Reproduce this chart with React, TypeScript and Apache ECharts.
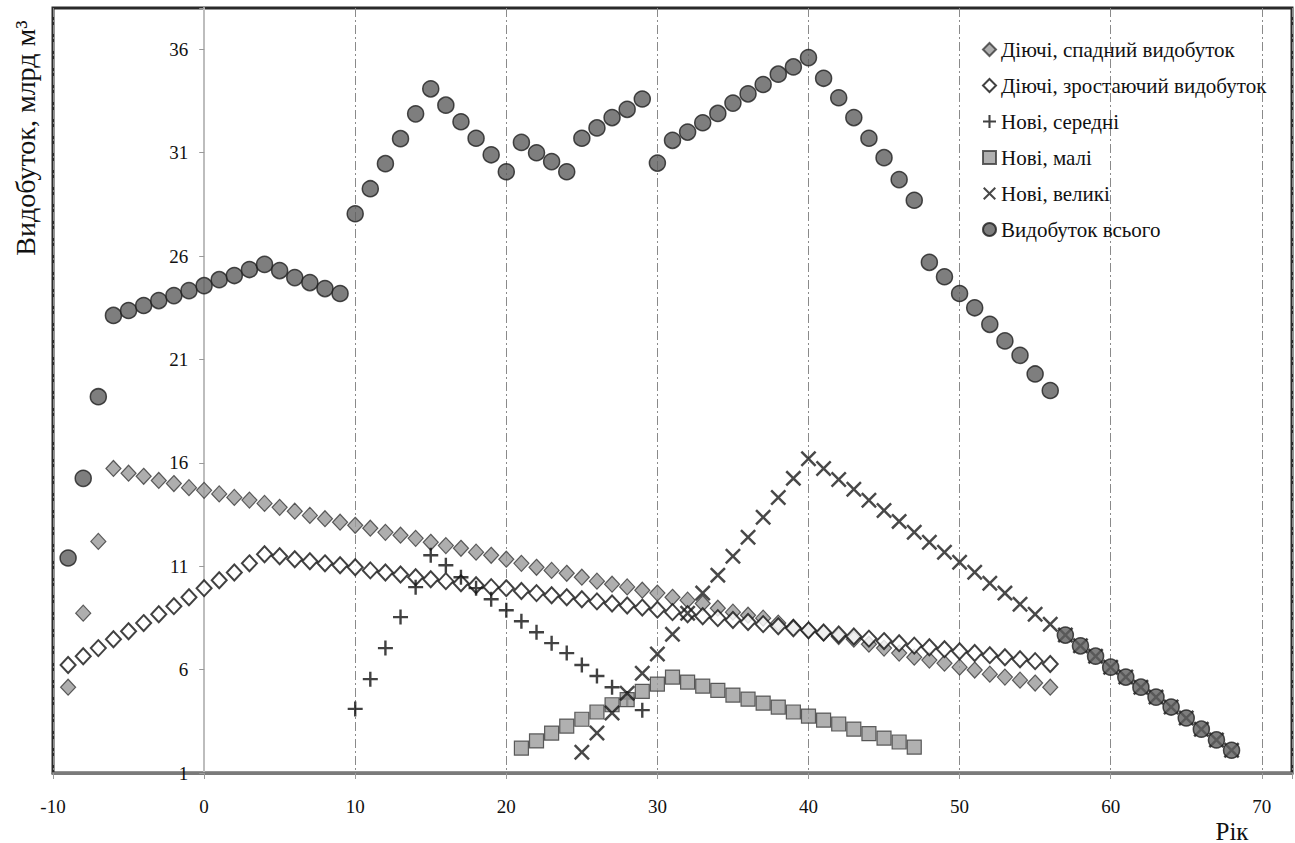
import React, { useEffect, useRef } from "react";
import * as echarts from "echarts";

// ---- Data (years and production, bln m3) ----
const startDecl = -9;
const declining = [5.15, 8.73, 12.2, 15.73, 15.5, 15.35, 15.15, 15.0, 14.8, 14.67, 14.5, 14.33, 14.2, 14.04, 13.85, 13.66, 13.46, 13.3, 13.13, 12.98, 12.84, 12.64, 12.5, 12.35, 12.16, 12.0, 11.87, 11.68, 11.53, 11.34, 11.14, 10.95, 10.8, 10.66, 10.47, 10.28, 10.13, 10.0, 9.84, 9.7, 9.5, 9.36, 9.2, 8.97, 8.78, 8.63, 8.49, 8.25, 8.05, 7.9, 7.76, 7.6, 7.47, 7.23, 7.04, 6.8, 6.6, 6.46, 6.31, 6.12, 5.98, 5.78, 5.64, 5.49, 5.35, 5.15];

const startGrow = -9;
const growing = [6.22, 6.65, 7.04, 7.47, 7.86, 8.25, 8.68, 9.07, 9.5, 9.94, 10.32, 10.7, 11.14, 11.58, 11.48, 11.34, 11.24, 11.14, 11.05, 10.95, 10.8, 10.7, 10.6, 10.47, 10.37, 10.28, 10.18, 10.08, 9.99, 9.94, 9.8, 9.7, 9.6, 9.5, 9.4, 9.3, 9.2, 9.1, 9.0, 8.9, 8.78, 8.68, 8.58, 8.49, 8.4, 8.3, 8.2, 8.1, 8.0, 7.9, 7.8, 7.7, 7.6, 7.5, 7.38, 7.28, 7.16, 7.08, 6.99, 6.89, 6.8, 6.7, 6.6, 6.5, 6.41, 6.27];

const startMedium = 10;
const newMedium = [4.1, 5.54, 7.04, 8.54, 9.99, 11.53, 11.05, 10.47, 9.94, 9.4, 8.87, 8.34, 7.81, 7.28, 6.8, 6.22, 5.69, 5.15, 4.6, 4.04];

const startSmall = 21;
const newSmall = [2.2, 2.55, 2.93, 3.27, 3.6, 3.95, 4.3, 4.55, 4.95, 5.3, 5.64, 5.4, 5.2, 5.0, 4.77, 4.57, 4.38, 4.19, 3.95, 3.75, 3.56, 3.37, 3.12, 2.9, 2.69, 2.5, 2.25];

const startLarge = 25;
const newLarge = [2.0, 2.93, 3.9, 4.86, 5.83, 6.75, 7.71, 8.73, 9.7, 10.57, 11.48, 12.4, 13.37, 14.33, 15.25, 16.2, 15.73, 15.2, 14.72, 14.19, 13.7, 13.17, 12.64, 12.16, 11.68, 11.19, 10.71, 10.18, 9.7, 9.16, 8.68, 8.2, 7.67, 7.15, 6.65, 6.12, 5.64, 5.15, 4.67, 4.19, 3.66, 3.12, 2.6, 2.1];

const startTotal = -9;
const total = [11.4, 15.25, 19.2, 23.13, 23.37, 23.61, 23.85, 24.09, 24.33, 24.57, 24.86, 25.06, 25.35, 25.6, 25.3, 24.96, 24.72, 24.43, 24.19, 28.05, 29.26, 30.47, 31.68, 32.88, 34.09, 33.3, 32.5, 31.7, 30.9, 30.08, 31.5, 31.0, 30.57, 30.08, 31.7, 32.2, 32.7, 33.1, 33.6, 30.5, 31.6, 32.0, 32.45, 32.9, 33.4, 33.85, 34.3, 34.8, 35.15, 35.6, 34.6, 33.66, 32.7, 31.7, 30.76, 29.7, 28.7, 25.7, 25.0, 24.19, 23.5, 22.7, 21.9, 21.2, 20.3, 19.5, 7.67, 7.15, 6.65, 6.12, 5.64, 5.15, 4.67, 4.19, 3.66, 3.12, 2.6, 2.1];

const seriesNames = [
  "Діючі, спадний видобуток",
  "Діючі, зростаючий видобуток",
  "Нові, середні",
  "Нові, малі",
  "Нові, великі",
  "Видобуток всього",
];

const xTicks = [-10, 0, 10, 20, 30, 40, 50, 60, 70];
const yTicks = [1, 6, 11, 16, 21, 26, 31, 36];

const toPairs = (start: number, vals: number[]) => vals.map((v, i) => [start + i, v]);

const FONT = "Liberation Serif";
const PLUS = "path://M4.2,0 H5.8 V4.2 H10 V5.8 H5.8 V10 H4.2 V5.8 H0 V4.2 H4.2 Z";
const CROSS = "path://M1.1,0 L5,3.9 L8.9,0 L10,1.1 L6.1,5 L10,8.9 L8.9,10 L5,6.1 L1.1,10 L0,8.9 L3.9,5 L0,1.1 Z";

const GRID_LEFT = 53;
const GRID_WIDTH = 1240;
const X_MIN = -10;
const X_MAX = 72;

export default function App() {
  const ref = useRef<HTMLDivElement>(null);
  useEffect(() => {
    document.body.style.margin = "0";
    const chart = echarts.init(ref.current!, undefined, { renderer: "svg" });
    // shift the y axis so it sits on x = 0
    const yOffset = -((0 - X_MIN) / (X_MAX - X_MIN)) * GRID_WIDTH;
    chart.setOption({
      animation: false,
      backgroundColor: "#ffffff",
      grid: {
        left: GRID_LEFT,
        top: 8,
        width: GRID_WIDTH,
        bottom: 70,
        show: true,
        borderColor: "#2a2a2a",
        borderWidth: 3,
      },
      legend: {
        orient: "vertical",
        left: 977,
        top: 34,
        itemGap: 15,
        itemWidth: 13,
        itemHeight: 13,
        textStyle: { fontFamily: FONT, fontSize: 21, color: "#111" },
        data: seriesNames,
      },
      xAxis: {
        type: "value",
        min: X_MIN,
        max: X_MAX,
        interval: 10,
        axisLine: { onZero: false, lineStyle: { color: "#7a7a7a", width: 3 } },
        axisTick: { show: true, length: 6, lineStyle: { color: "#999", width: 1 } },
        axisLabel: {
          margin: 24,
          fontFamily: FONT,
          fontSize: 19,
          color: "#111",
          formatter: (v: number) => (xTicks.includes(v) ? String(v) : ""),
        },
        splitLine: {
          show: true,
          lineStyle: { color: "#8a8a8a", width: 1, type: [9, 3, 2, 3] },
        },
      },
      yAxis: {
        type: "value",
        min: 1,
        max: 38,
        interval: 5,
        offset: yOffset,
        axisLine: { show: true, onZero: false, lineStyle: { color: "#bdbdbd", width: 2 } },
        axisTick: { show: true, length: 5, lineStyle: { color: "#999" } },
        axisLabel: {
          margin: 16,
          fontFamily: FONT,
          fontSize: 19,
          color: "#111",
          formatter: (v: number) => (yTicks.includes(v) ? String(v) : ""),
        },
        splitLine: { show: false },
      },
      graphic: [
        {
          type: "text",
          x: 25,
          y: 138,
          rotation: Math.PI / 2,
          style: {
            text: "Видобуток, млрд м³",
            fontFamily: FONT,
            fontSize: 28,
            fill: "#111",
            textAlign: "center",
            textVerticalAlign: "middle",
          },
        },
        {
          type: "text",
          x: 1232,
          y: 831,
          style: {
            text: "Рік",
            fontFamily: FONT,
            fontSize: 25,
            fill: "#111",
            textAlign: "center",
            textVerticalAlign: "middle",
          },
        },
      ],
      series: [
        {
          name: seriesNames[0],
          type: "scatter",
          symbol: "diamond",
          symbolSize: [15, 16],
          itemStyle: { color: "#9a9a9a", borderColor: "#3a3a3a", borderWidth: 1.2 },
          data: toPairs(startDecl, declining),
        },
        {
          name: seriesNames[1],
          type: "scatter",
          symbol: "diamond",
          symbolSize: [15, 16],
          itemStyle: { color: "#ffffff", borderColor: "#111", borderWidth: 2 },
          data: toPairs(startGrow, growing),
        },
        {
          name: seriesNames[2],
          type: "scatter",
          symbol: PLUS,
          symbolSize: 15,
          itemStyle: { color: "#111" },
          data: toPairs(startMedium, newMedium),
        },
        {
          name: seriesNames[3],
          type: "scatter",
          symbol: "rect",
          symbolSize: 14,
          itemStyle: { color: "#9c9c9c", borderColor: "#3a3a3a", borderWidth: 1.2 },
          data: toPairs(startSmall, newSmall),
        },
        {
          name: seriesNames[4],
          type: "scatter",
          symbol: CROSS,
          symbolSize: 16,
          itemStyle: { color: "#1a1a1a" },
          data: toPairs(startLarge, newLarge),
        },
        {
          name: seriesNames[5],
          type: "scatter",
          symbol: "circle",
          symbolSize: 16,
          itemStyle: { color: "#5e5e5e", borderColor: "#1e1e1e", borderWidth: 1.5 },
          data: toPairs(startTotal, total),
        },
      ],
    });
    return () => chart.dispose();
  }, []);
  return <div ref={ref} style={{ width: 1295, height: 843 }} />;
}
